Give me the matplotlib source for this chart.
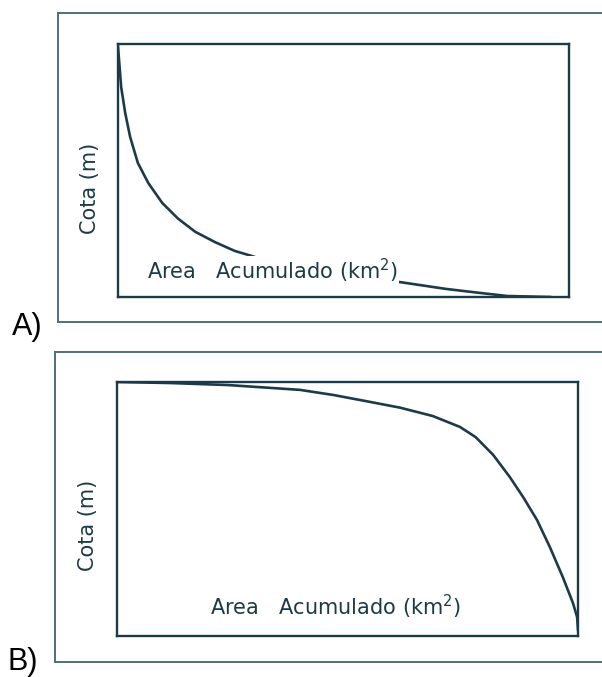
import matplotlib
matplotlib.use('Agg')
import matplotlib.pyplot as plt
from matplotlib.lines import Line2D

# curva A (concava) - % da area acumulada vs % da cota
area_a = [0, 0.7, 1.6, 2.7, 4.4, 6.7, 9.8, 13.3, 17.1, 21.5, 25.9, 29.5, 33.0, 38.1,
          43.5, 49.2, 55.5, 62.5, 72.7, 80.3, 86.3, 95.8]
cota_a = [99.0, 83.0, 72.7, 63.2, 53.0, 45.1, 37.2, 31.0, 25.8, 21.7, 18.2, 16.3, 14.2, 12.3,
          10.7, 9.1, 7.4, 5.9, 3.2, 1.6, 0.4, 0.0]

# curva B (convexa)
area_b = [0, 11.5, 24.1, 39.7, 46.9, 54.2, 61.4, 68.5, 74.4, 77.8, 81.6, 85.2,
          88.1, 91.1, 93.9, 96.7, 98.9, 99.8, 100]
cota_b = [100, 99.6, 98.8, 96.9, 94.9, 92.4, 89.9, 86.6, 82.3, 78.3, 71.3, 62.6,
          54.7, 45.7, 35.0, 23.2, 13.0, 7.5, 2.4]

ink = '#1c3a48'
frame = '#4f6f78'
W, H = 602, 677

fig = plt.figure(figsize=(W / 100, H / 100), dpi=100)


def px(x0, y0, x1, y1):
    # caixa em pixels -> fracao da figura
    return [x0 / W, 1 - y1 / H, (x1 - x0) / W, (y1 - y0) / H]


def outer_frame(left, top, bottom):
    kw = dict(color=frame, lw=1.4, transform=fig.transFigure)
    fig.add_artist(Line2D([left / W, 1], [1 - top / H] * 2, **kw))
    fig.add_artist(Line2D([left / W, 1], [1 - bottom / H] * 2, **kw))
    fig.add_artist(Line2D([left / W] * 2, [1 - top / H, 1 - bottom / H], **kw))


panels = [
    (px(118, 44, 569, 297), area_a, cota_a, (58, 13, 322), 'A)', (12, 335), (90, 188), (147, 279)),
    (px(117, 382, 578, 636), area_b, cota_b, (55, 352, 662), 'B)', (8, 670), (88, 525), (210, 615)),
]

for rect, xs, ys, fr, tag, tag_xy, cota_xy, area_xy in panels:
    outer_frame(*fr)
    ax = fig.add_axes(rect)
    ax.plot(xs, ys, color=ink, lw=1.9, zorder=2, solid_joinstyle='round')
    ax.set_xlim(0, 100)
    ax.set_ylim(0, 100)
    ax.set_xticks([])
    ax.set_yticks([])
    for s in ax.spines.values():
        s.set_color(ink)
        s.set_linewidth(1.7)
    ax.text(area_xy[0] / W, 1 - area_xy[1] / H, 'Area   Acumulado (km$^2$)',
            transform=fig.transFigure, fontsize=15, color=ink,
            ha='left', va='baseline', zorder=5,
            bbox=dict(facecolor='white', edgecolor='none', pad=0.5))
    fig.text(cota_xy[0] / W, 1 - cota_xy[1] / H, 'Cota (m)', rotation=90,
             fontsize=15, color=ink, ha='center', va='center')
    fig.text(tag_xy[0] / W, 1 - tag_xy[1] / H, tag, fontsize=22,
             family='Liberation Sans', color='black', ha='left', va='baseline')

fig.savefig('out.png', dpi=100)
